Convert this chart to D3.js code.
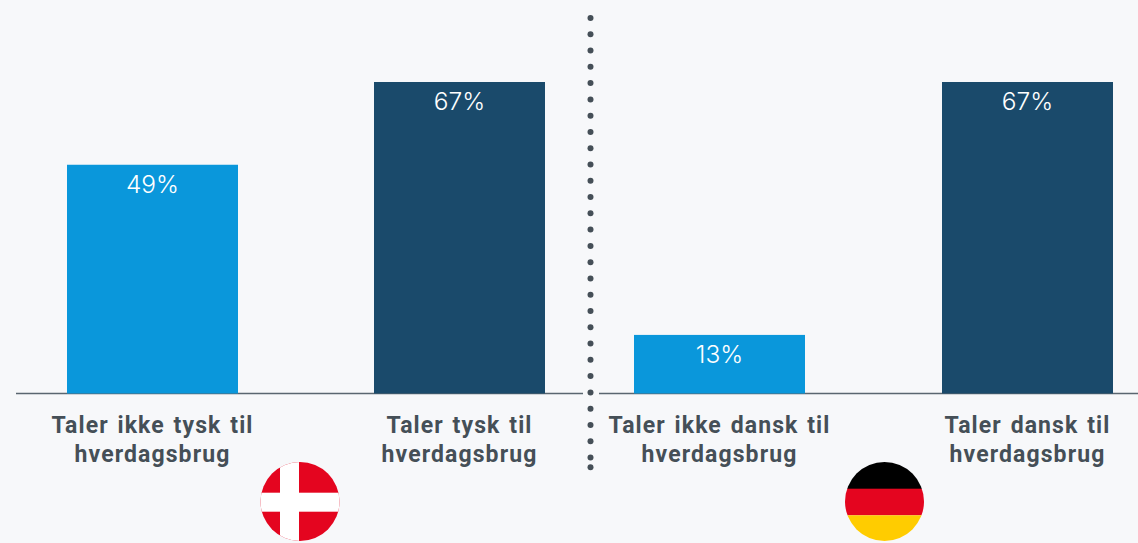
<!DOCTYPE html>
<html><head><meta charset="utf-8">
<script src="https://cdn.jsdelivr.net/npm/d3@7"></script>
<style>html,body{margin:0;padding:0;background:#f7f8fa}svg{display:block}</style>
</head><body><svg id="c" width="1138" height="543"></svg>
<script>
const categoriesDK = ["Taler ikke tysk til|hverdagsbrug","Taler tysk til|hverdagsbrug"];
const categoriesDE = ["Taler ikke dansk til|hverdagsbrug","Taler dansk til|hverdagsbrug"];
const valuesDK = [49.2,67];
const valuesDE = [12.6,67];
const colors = ["#0a97db","#1a4a6b"];
const svg = d3.select("#c");
const y = d3.scaleLinear().domain([0,67]).range([393.5,82]);
const fontLabel = "Roboto,sans-serif", fontVal = "Inter,sans-serif";

function panel(cats, vals, rng, line, pad){
  const x = d3.scaleBand().domain(cats).range(rng).paddingInner(pad).paddingOuter(0);
  const g = svg.append("g");
  g.append("line").attr("x1",line[0]).attr("x2",line[1]).attr("y1",y(0)).attr("y2",y(0))
    .attr("stroke","#5a6670").attr("stroke-width",1.4);
  g.selectAll("rect").data(cats).join("rect")
    .attr("x",d=>x(d)).attr("width",x.bandwidth())
    .attr("y",(d,i)=>y(vals[i])).attr("height",(d,i)=>y(0)-y(vals[i]))
    .attr("fill",(d,i)=>colors[i]);
  g.selectAll("text.v").data(cats).join("text").attr("class","v")
    .attr("x",d=>x(d)+x.bandwidth()/2).attr("y",(d,i)=>y(vals[i])+28)
    .attr("text-anchor","middle").attr("fill","#fff")
    .style("font",`300 24.5px ${fontVal}`)
    .text((d,i)=>d3.format(".0f")(vals[i])+"%");
  const t = g.selectAll("text.c").data(cats).join("text").attr("class","c")
    .attr("text-anchor","middle").attr("fill","#454f57")
    .style("font",`700 23px ${fontLabel}`).style("letter-spacing","1.1px").style("word-spacing","2px");
  t.each(function(d){
    const cx = x(d)+x.bandwidth()/2;
    d.split("|").forEach((s,i)=>d3.select(this).append("tspan").attr("x",cx).attr("y",432.5+i*29).text(s));
  });
}
panel(categoriesDK, valuesDK, [67,545], [16,583], 136/307);
panel(categoriesDE, valuesDE, [634,1113], [599,1138], 137/308);

// dotted divider
const dotSteps = d3.range(28);
const dotY = d3.scaleLinear().domain([0,27]).range([18,457.5]);
svg.selectAll("circle.d").data(dotSteps.concat([27.6])).join("circle").attr("class","d")
  .attr("cx",590.5).attr("cy",d=>dotY(d)).attr("r",3).attr("fill","#454f57");

// flags
const defs = svg.append("defs");
function flag(id,cx,cy,r,draw){
  defs.append("clipPath").attr("id",id).append("circle").attr("cx",cx).attr("cy",cy).attr("r",r);
  draw(svg.append("g").attr("clip-path",`url(#${id})`));
}
flag("dk",300,501.5,39.5,g=>{
  g.append("rect").attr("x",260).attr("y",462).attr("width",80).attr("height",80).attr("fill","#e4051f");
  g.append("rect").attr("x",280).attr("y",462).attr("width",19).attr("height",80).attr("fill","#fff");
  g.append("rect").attr("x",260).attr("y",492.7).attr("width",80).attr("height",19).attr("fill","#fff");
});
flag("de",884.5,501.5,39.5,g=>{
  g.append("rect").attr("x",844).attr("y",462).attr("width",81).attr("height",27).attr("fill","#000");
  g.append("rect").attr("x",844).attr("y",488.7).attr("width",81).attr("height",26.6).attr("fill","#e4051f");
  g.append("rect").attr("x",844).attr("y",515.3).attr("width",81).attr("height",27).attr("fill","#ffcc00");
});
</script></body></html>
